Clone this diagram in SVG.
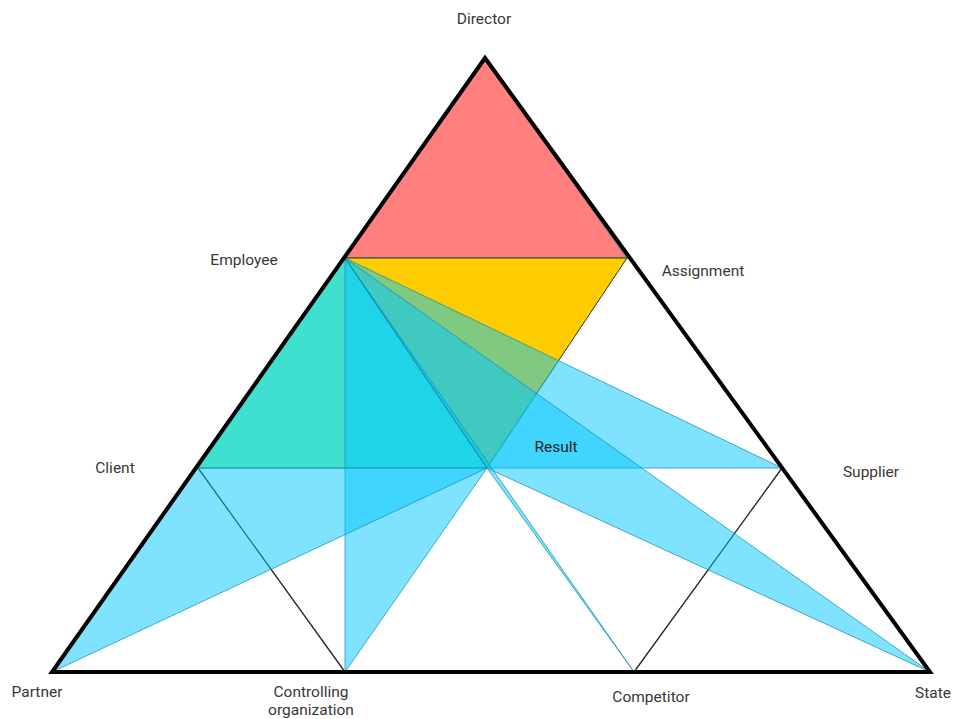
<svg xmlns="http://www.w3.org/2000/svg" width="955" height="719" viewBox="0 0 955 719">
<style>
  .lbl{font-family:Roboto,"Liberation Sans",sans-serif;font-size:15.5px;fill:#383838;text-anchor:middle}
  .blue{fill:#00C8FF;fill-opacity:.5;stroke:#1590b0;stroke-opacity:.75;stroke-width:1;stroke-linejoin:round}
  .grid{stroke:#222;stroke-width:1.3;fill:none}
</style>
<rect width="955" height="719" fill="#fff"/>
<g id="zones">
  <polygon id="director-zone" points="485,58 345,258 627,258" fill="#FF7F7F" stroke="#888" stroke-width="2"/>
  <polygon id="assignment-zone" points="345,258 627,258 487,468" fill="#FFCC00" stroke="#333" stroke-width="1"/>
  <polygon id="employee-zone" points="345,258 198,468 487,468" fill="#40E0D0" stroke="#2a9a9a" stroke-width="1"/>
</g>
<g id="connectors">
  <line class="grid" x1="198" y1="468" x2="345" y2="672"/>
  <line class="grid" x1="782" y1="468" x2="634" y2="672"/>
</g>
<g id="overlays">
  <polygon id="ov-controlling" class="blue" points="345,258 345,672 487,468"/>
  <polygon id="ov-partner" class="blue" points="198,468 52,672 487,468"/>
  <polygon id="ov-supplier" class="blue" points="345,258 487,468 782,468"/>
  <polygon id="ov-state" class="blue" points="345,258 487,468 930,672"/>
  <polygon id="ov-competitor" class="blue" points="345,258 487,468 634,672"/>
</g>
<g id="frame">
  <polygon points="485,58 52,672 930,672" fill="none" stroke="#000" stroke-width="4" stroke-linejoin="miter"/>
</g>
<g id="n-director"><text class="lbl" x="484" y="24">Director</text></g>
<g id="n-employee"><text class="lbl" x="244" y="265">Employee</text></g>
<g id="n-assignment"><text class="lbl" x="703" y="276">Assignment</text></g>
<g id="n-client"><text class="lbl" x="115" y="473">Client</text></g>
<g id="n-supplier"><text class="lbl" x="871" y="477">Supplier</text></g>
<g id="n-result"><text class="lbl" x="556" y="452" style="fill:#222">Result</text></g>
<g id="n-partner"><text class="lbl" x="37" y="697">Partner</text></g>
<g id="n-controlling"><text class="lbl" x="311" y="697">Controlling</text><text class="lbl" x="311" y="715">organization</text></g>
<g id="n-competitor"><text class="lbl" x="651" y="702">Competitor</text></g>
<g id="n-state"><text class="lbl" x="915" y="698" style="text-anchor:start">State</text></g>
</svg>
